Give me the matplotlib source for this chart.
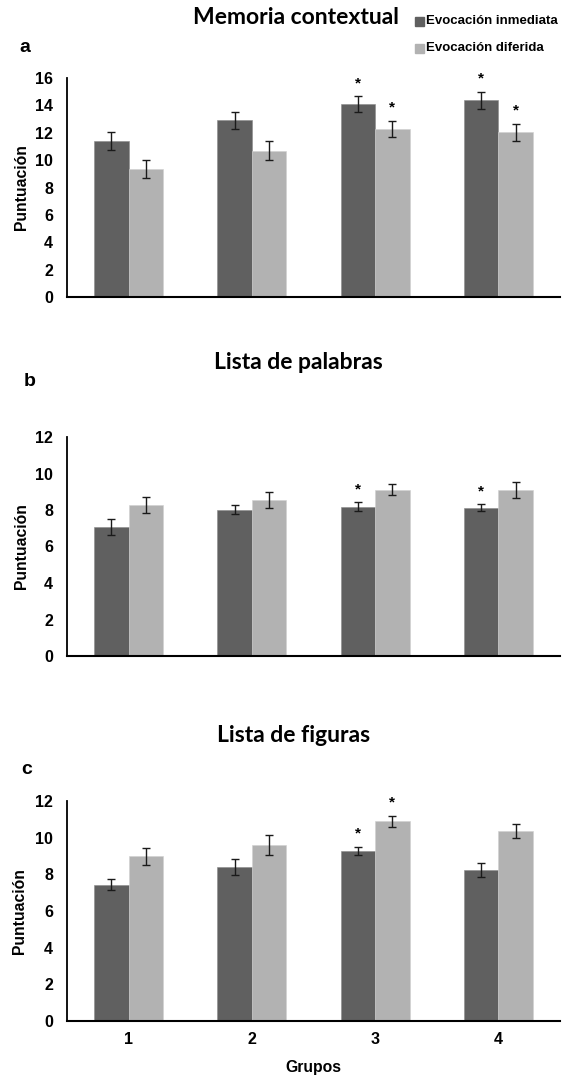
import numpy as np
import matplotlib
matplotlib.use('Agg')
import matplotlib.pyplot as plt

groups = ['1', '2', '3', '4']
series = ['Evocación inmediata', 'Evocación diferida']

# panel a: Memoria contextual
mem_inm = [11.4, 12.9, 14.08, 14.37]
mem_dif = [9.34, 10.7, 12.3, 12.05]
mem_inm_err = [0.63, 0.64, 0.58, 0.6]
mem_dif_err = [0.68, 0.68, 0.59, 0.62]
mem_star_inm = [False, False, True, True]
mem_star_dif = [False, False, True, True]

# panel b: Lista de palabras
pal_inm = [7.07, 8.01, 8.19, 8.12]
pal_dif = [8.29, 8.54, 9.12, 9.08]
pal_inm_err = [0.44, 0.25, 0.23, 0.19]
pal_dif_err = [0.44, 0.42, 0.32, 0.43]
pal_star_inm = [False, False, True, True]
pal_star_dif = [False, False, False, False]

# panel c: Lista de figuras
fig_inm = [7.44, 8.4, 9.27, 8.25]
fig_dif = [8.98, 9.58, 10.89, 10.36]
fig_inm_err = [0.31, 0.42, 0.23, 0.37]
fig_dif_err = [0.45, 0.55, 0.29, 0.4]
fig_star_inm = [False, False, True, False]
fig_star_dif = [False, False, True, False]

dark = '#606060'
light = '#b2b2b2'
tickfont = 'Liberation Sans'
titlefont = 'Lato'

W, H = 573, 1080
fig = plt.figure(figsize=(W/100, H/100), dpi=100)

def rect(top, bottom, left=67, right=560):
    return [left/W, 1-bottom/H, (right-left)/W, (bottom-top)/H]

def panel(ax, inm, dif, einm, edif, sinm, sdif, ymax, step):
    x = np.arange(len(groups))
    w = 0.28
    ax.bar(x - w/2, inm, w, color=dark, edgecolor='#8a8a8a', linewidth=0.4, zorder=2)
    ax.bar(x + w/2, dif, w, color=light, edgecolor='#d0d0d0', linewidth=0.4, zorder=2)
    ax.errorbar(x - w/2, inm, yerr=einm, fmt='none', ecolor='#1a1a1a', elinewidth=1, capsize=2.6, capthick=1, zorder=3)
    ax.errorbar(x + w/2, dif, yerr=edif, fmt='none', ecolor='#1a1a1a', elinewidth=1, capsize=2.6, capthick=1, zorder=3)
    for xs, vals, errs, stars in [(x - w/2, inm, einm, sinm), (x + w/2, dif, edif, sdif)]:
        for xi, v, e, s in zip(xs, vals, errs, stars):
            if s:
                ax.annotate('*', (xi, v + e), xytext=(0, 9.5), textcoords='offset points',
                            ha='center', va='center', fontsize=11, fontweight='bold',
                            family=tickfont, annotation_clip=False)
    ax.set_xlim(-0.5, len(groups) - 0.5)
    ax.set_ylim(0, ymax)
    ax.set_yticks(np.arange(0, ymax + 0.1, step))
    for s in ['top', 'right']:
        ax.spines[s].set_visible(False)
    ax.spines['left'].set_linewidth(1.3)
    ax.spines['bottom'].set_linewidth(1.5)
    ax.tick_params(axis='both', length=0, pad=10)
    for lab in ax.get_yticklabels():
        lab.set_fontfamily(tickfont)
        lab.set_fontweight('bold')
        lab.set_fontsize(11.5)
    ax.set_ylabel('Puntuación', family=tickfont, fontweight='bold', fontsize=11.3)

def place_ylabel(ax, xpix):
    # label anchor is its right edge; put that at a fixed pixel column
    bb = ax.get_position()
    ax.yaxis.set_label_coords((xpix/W - bb.x0) / bb.width, 0.5)

ax1 = fig.add_axes(rect(78, 297))
panel(ax1, mem_inm, mem_dif, mem_inm_err, mem_dif_err, mem_star_inm, mem_star_dif, 16, 2)
ax1.set_xticks([])
place_ylabel(ax1, 29)

ax2 = fig.add_axes(rect(437, 656))
panel(ax2, pal_inm, pal_dif, pal_inm_err, pal_dif_err, pal_star_inm, pal_star_dif, 12, 2)
ax2.set_xticks([])
place_ylabel(ax2, 29)

ax3 = fig.add_axes(rect(801, 1021))
panel(ax3, fig_inm, fig_dif, fig_inm_err, fig_dif_err, fig_star_inm, fig_star_dif, 12, 2)
ax3.set_xticks(np.arange(len(groups)))
ax3.set_xticklabels(groups, family=tickfont, fontweight='bold', fontsize=11.5)
ax3.tick_params(axis='x', pad=8)
ax3.set_xlabel('Grupos', family=tickfont, fontweight='bold', fontsize=11.3, labelpad=9)
place_ylabel(ax3, 27)

# titles and panel letters
fig.text(296/W, 1-18/H, 'Memoria contextual', ha='center', va='center', family=titlefont, fontsize=16.5, fontweight='bold')
fig.text(298/W, 1-362/H, 'Lista de palabras', ha='center', va='center', family=titlefont, fontsize=16.5, fontweight='bold')
fig.text(294/W, 1-736/H, 'Lista de figuras', ha='center', va='center', family=titlefont, fontsize=16.5, fontweight='bold')
fig.text(25/W, 1-48/H, 'a', ha='center', va='center', family=tickfont, fontsize=14, fontweight='bold')
fig.text(30/W, 1-382/H, 'b', ha='center', va='center', family=tickfont, fontsize=14, fontweight='bold')
fig.text(27/W, 1-769/H, 'c', ha='center', va='center', family=tickfont, fontsize=14, fontweight='bold')

# legend
for i, (name, col) in enumerate(zip(series, [dark, light])):
    yy = 1 - (21 + 27*i)/H
    fig.patches.append(plt.Rectangle((415/W, yy - 4.5/H), 9/W, 9/H, transform=fig.transFigure, color=col))
    fig.text(426/W, yy, name, ha='left', va='center', family=tickfont, fontsize=9.5, fontweight='bold')

fig.savefig('out.png', dpi=100)
